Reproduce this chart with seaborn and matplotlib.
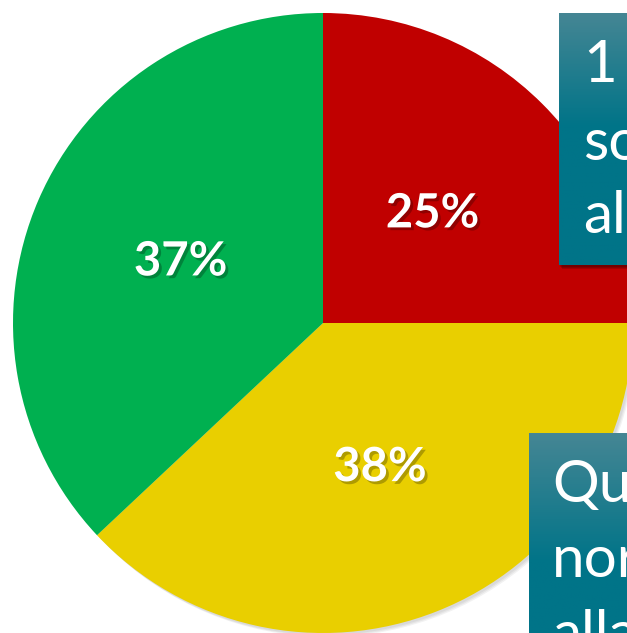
import numpy as np
import matplotlib.pyplot as plt
import matplotlib.patheffects as pe
from matplotlib.patches import Rectangle, Circle
import seaborn as sns

# slice data
labels = ["Rosso", "Giallo", "Verde"]
shares = [25, 38, 37]
colors = ["#C00000", "#E9CF00", "#00B050"]

# text boxes on the right (only the left part is visible)
box1_lines = ["1", "so", "al"]
box2_lines = ["Qu", "nor", "alla"]

sns.set_theme(style="white")
plt.rcParams["font.family"] = ["Lato", "DejaVu Sans"]

W, H = 627, 633
fig = plt.figure(figsize=(W / 100, H / 100), dpi=100)
ax = fig.add_axes([0, 0, 1, 1])

cx, cy, r = 323, H - 323, 310

# soft shadow behind the pie
for i in range(3):
    ax.add_patch(Circle((cx + 2 + i, cy - 2 - i), r, color="black", alpha=0.05, zorder=0, lw=0))

wedges, texts, autotexts = ax.pie(
    shares, colors=colors, startangle=90, counterclock=False,
    radius=r, center=(cx, cy), autopct="%d%%", pctdistance=0.5,
    wedgeprops=dict(linewidth=0), frame=False,
)
for t in autotexts:
    t.set_color("white")
    t.set_fontsize(34)
    t.set_fontweight("bold")
    t.set_zorder(5)
    t.set_path_effects([pe.SimplePatchShadow(offset=(2, -2), shadow_rgbFace="black", alpha=0.25), pe.Normal()])


def teal_box(x0, y0, x1, y1, lines, tx, baselines):
    # shadow
    for i in range(3):
        ax.add_patch(Rectangle((x0 + 1 + i, y0 - 2 - i), x1 - x0, y1 - y0, color="black", alpha=0.15, lw=0, zorder=6))
    grad = np.linspace(0, 1, 256)[:, None]
    top = np.array([0x45, 0x86, 0x94]) / 255
    bot = np.array([0x00, 0x74, 0x88]) / 255
    frac = np.clip(grad / 0.45, 0, 1)
    img = top * (1 - frac[..., None]) + bot * frac[..., None]
    img = np.repeat(img, 2, axis=1)
    ax.imshow(img, extent=(x0, x1, y0, y1), origin="upper", aspect="auto", zorder=7)
    for line, by in zip(lines, baselines):
        ax.text(tx, by, line, color="white", fontsize=42, va="baseline", ha="left", zorder=8)


teal_box(559, H - 265, 720, H - 13, box1_lines, 583, [H - 82, H - 160, H - 233])
teal_box(529, H - 720, 720, H - 433, box2_lines, 552, [H - 502, H - 577, H - 652])

ax.set_xlim(0, W)
ax.set_ylim(0, H)
ax.set_aspect("auto")
ax.axis("off")

plt.savefig("out.png", dpi=100)
